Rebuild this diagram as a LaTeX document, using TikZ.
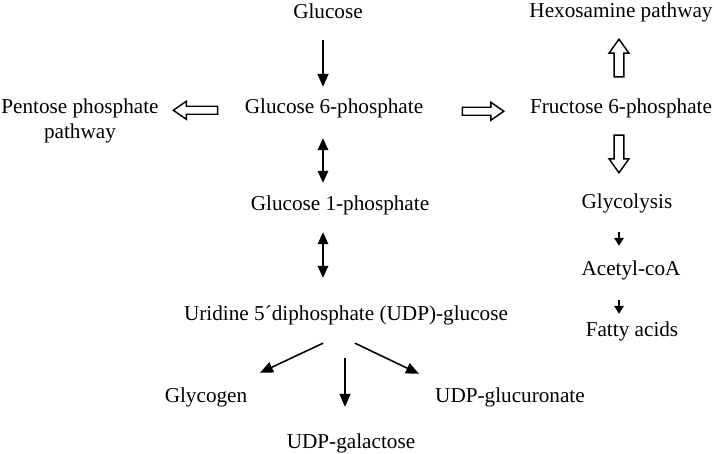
\documentclass[tikz,border=0pt]{standalone}
\usepackage{fontspec}
\setmainfont{Liberation Serif}
\usepackage{tikz}
\usetikzlibrary{arrows.meta,calc}
\tikzset{
LABEL/.style ={anchor=base,inner sep=0pt,text height=14pt,text depth=4.5pt},
ARROW/.style ={draw=black,line width=0.55mm,-{Triangle[length=13pt,width=11pt]}},
DARROW/.style ={draw=black,line width=0.55mm,{Triangle[length=12pt,width=10.5pt]}-{Triangle[length=12pt,width=10.5pt]}},
SMALLARROW/.style ={draw=black,line width=0.55mm,-{Triangle[length=8pt,width=9.5pt]}},
HOLLOWSIZE/.code n args={3}{\def\shaftw{#1}\def\headw{#2}\def\headl{#3}},
HOLLOWH/.style ={HOLLOWSIZE={4pt}{9pt}{13pt}},
HOLLOWV/.style ={HOLLOWSIZE={4.8pt}{10pt}{14pt}},
HOLLOW/.style 2 args={draw=black,line width=0.5mm,line join=miter,
	to path={($(\tikztostart)!#1!(\tikztotarget)!\shaftw!90:(\tikztotarget)$)
	-- ($(\tikztotarget)!#2!(\tikztostart)!\headl!(\tikztostart)!\shaftw!90:(\tikztotarget)$)
	-- ($(\tikztotarget)!#2!(\tikztostart)!\headl!(\tikztostart)!\headw!90:(\tikztotarget)$)
	-- ($(\tikztotarget)!#2!(\tikztostart)$)
	-- ($(\tikztotarget)!#2!(\tikztostart)!\headl!(\tikztostart)!\headw!-90:(\tikztotarget)$)
	-- ($(\tikztotarget)!#2!(\tikztostart)!\headl!(\tikztostart)!\shaftw!-90:(\tikztotarget)$)
	-- ($(\tikztostart)!#1!(\tikztotarget)!\shaftw!-90:(\tikztotarget)$)
	-- cycle}},
}
\begin{document}
\begin{tikzpicture}
[x=1pt, y=-1pt, font=\fontsize{21.2pt}{25pt}\selectfont]
	\useasboundingbox (0,0) rectangle (714,453);
	\coordinate (lcol) at (323,0);
	\coordinate (rcol) at (619,0);
	\node[LABEL] (glc) at (328,18) {Glucose};
	\node[LABEL] (g6p) at (334,113) {Glucose 6-phosphate};
	\node[LABEL] (g1p) at (340,210) {Glucose 1-phosphate};
	\node[LABEL] (udp) at (346,320) {Uridine 5´diphosphate (UDP)-glucose};
	\node[LABEL] (glyc) at (206,402) {Glycogen};
	\node[LABEL] (gal) at (351,448) {UDP-galactose};
	\node[LABEL] (gluc) at (510,402) {UDP-glucuronate};
	\node[align=center,anchor=north,inner sep=0pt] (pent) at (80,98.5) {Pentose phosphate\\pathway};
	\node[LABEL] (hexo) at (621,17) {Hexosamine pathway};
	\node[LABEL] (fru) at (621,113) {Fructose 6-phosphate};
	\node[LABEL] (glyco) at (627,208) {Glycolysis};
	\node[LABEL] (acet) at (631,275) {Acetyl-coA};
	\node[LABEL] (fat) at (632,336) {Fatty acids};
	\draw[ARROW,shorten <=17.5pt,shorten >=12pt] (glc.south -| lcol) -- (g6p.north -| lcol);
	\draw[DARROW,shorten <=20.5pt,shorten >=13pt] (g6p.south -| lcol) -- (g1p.north -| lcol);
	\draw[DARROW,shorten <=17.5pt,shorten >=28pt] (g1p.south -| lcol) -- (udp.north -| lcol);
	\draw[ARROW] ([shift={(-23pt,-18.5pt)}]udp.south) -- ([shift={(54pt,15pt)}]glyc.north);
	\draw[ARROW] ([shift={(-1pt,-33.5pt)}]udp.south) -- ([shift={(-6pt,27pt)}]gal.north);
	\draw[ARROW] ([shift={(9pt,-18.5pt)}]udp.south) -- ([shift={(-91pt,14pt)}]gluc.north);
	\draw[SMALLARROW,shorten <=19.5pt,shorten >=15pt] (glyco.south -| rcol) -- (acet.north -| rcol);
	\draw[SMALLARROW,shorten <=20.5pt,shorten >=8pt] (acet.south -| rcol) -- (fat.north -| rcol);
	\draw[HOLLOW={27pt}{14.5pt},HOLLOWH] ([yshift=-2pt]g6p.west) to ([yshift=-2pt]pent.east |- g6p.west);
	\draw[HOLLOW={39pt}{26pt},HOLLOWH] ([yshift=-3pt]g6p.east) to ([yshift=-3pt]fru.west);
	\draw[HOLLOW={22pt}{17.5pt},HOLLOWV] (fru.north -| rcol) to (hexo.south -| rcol);
	\draw[HOLLOW={17.5pt}{21pt},HOLLOWV] (fru.south -| rcol) to (glyco.north -| rcol);
\end{tikzpicture}
\end{document}
